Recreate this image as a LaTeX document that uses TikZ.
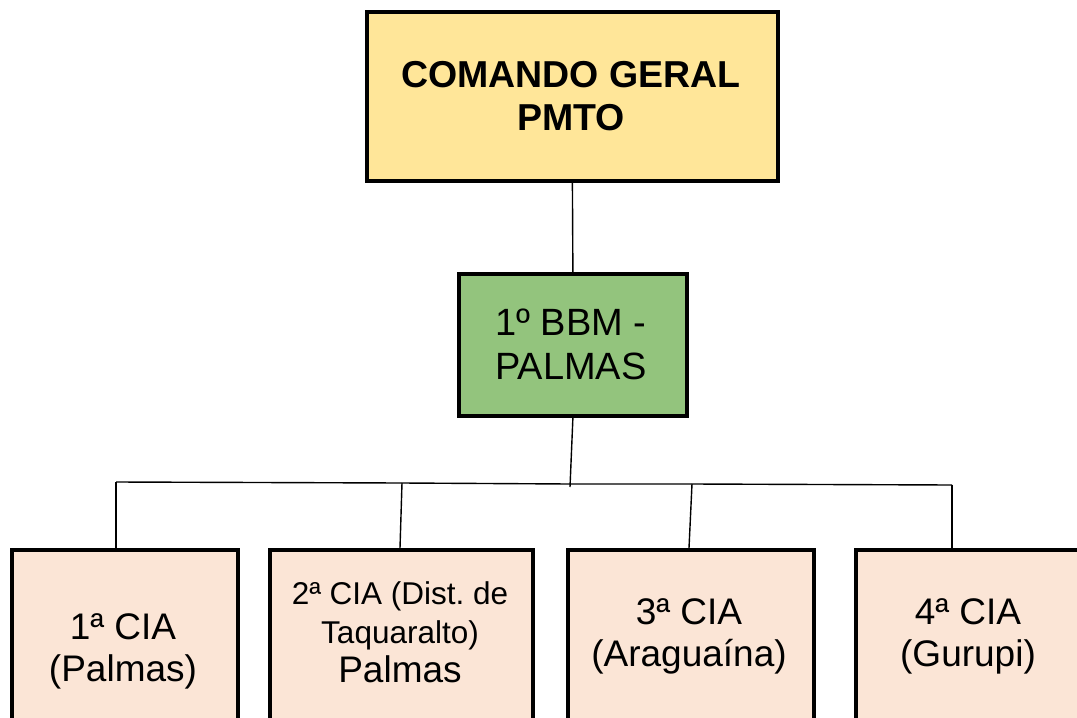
\documentclass[tikz,border=0pt]{standalone}
\usepackage{fontspec}
\setmainfont{Liberation Sans}
\frenchspacing
\definecolor{topfill}{RGB}{255,230,153}
\definecolor{midfill}{RGB}{147,196,125}
\definecolor{lowfill}{RGB}{251,229,214}
\begin{document}
\begin{tikzpicture}[x=1pt,y=-1pt,
  box/.style={draw=black,line width=3.8pt,rectangle,inner sep=0pt,anchor=north west},
  lbl/.style={align=center,inner sep=0pt,text=black},
  conn/.style={draw=black,line width=1.4pt}]
\useasboundingbox (0,0) rectangle (1077,718);
\clip (0,0) rectangle (1077,718);
\fill[white] (0,0) rectangle (1077,718);
% boxes
\node[box,fill=topfill,minimum width=411pt,minimum height=169pt] (top) at (365,10) {};
\node[box,fill=midfill,minimum width=228pt,minimum height=142pt] (mid) at (457,272) {};
\node[box,fill=lowfill,minimum width=226pt,minimum height=200pt] (c1) at (10,548) {};
\node[box,fill=lowfill,minimum width=263pt,minimum height=200pt] (c2) at (268,548) {};
\node[box,fill=lowfill,minimum width=246pt,minimum height=200pt] (c3) at (566,548) {};
\node[box,fill=lowfill,minimum width=240pt,minimum height=200pt] (c4) at (854,548) {};
% labels
\node[lbl,font=\fontsize{37.5}{43}\selectfont\bfseries] (ttop) at (571,96) {COMANDO GERAL\\PMTO};
\node[lbl,font=\fontsize{38}{44}\selectfont] (tmid) at (571,344) {1º BBM -\\PALMAS};
\node[lbl,font=\fontsize{37}{42}\selectfont] (t1) at (123,651) {1ª CIA\\(Palmas)};
\node[lbl,font=\fontsize{31.5}{39}\selectfont] (t2) at (400,632) {2ª CIA (Dist. de\\Taquaralto)\\{\fontsize{37}{40}\selectfont Palmas}};
\node[lbl,font=\fontsize{37}{42}\selectfont] (t3) at (689,636) {3ª CIA\\(Araguaína)};
\node[lbl,font=\fontsize{37}{42}\selectfont] (t4) at (968,636) {4ª CIA\\(Gurupi)};
% bus coordinates
\coordinate (b1) at (116,482);
\coordinate (b2) at (402,483);
\coordinate (bm) at (570,484);
\coordinate (b3) at (692,484);
\coordinate (b4) at (952,485);
\coordinate (bmd) at (570,487);
% connectors
\draw[conn] (top.south) -- (mid.north);
\draw[conn] (mid.south) -- (bmd);
\draw[conn] (b1) -- (b2) -- (bm) -- (b3) -- (b4);
\draw[conn] (b1) -- (b1 |- c1.north);
\draw[conn] (b2) -- (400,548);
\draw[conn] (b3) -- (689,548);
\draw[conn] (b4) -- ([yshift=-4pt]b4 |- c4.north);
\end{tikzpicture}
\end{document}
